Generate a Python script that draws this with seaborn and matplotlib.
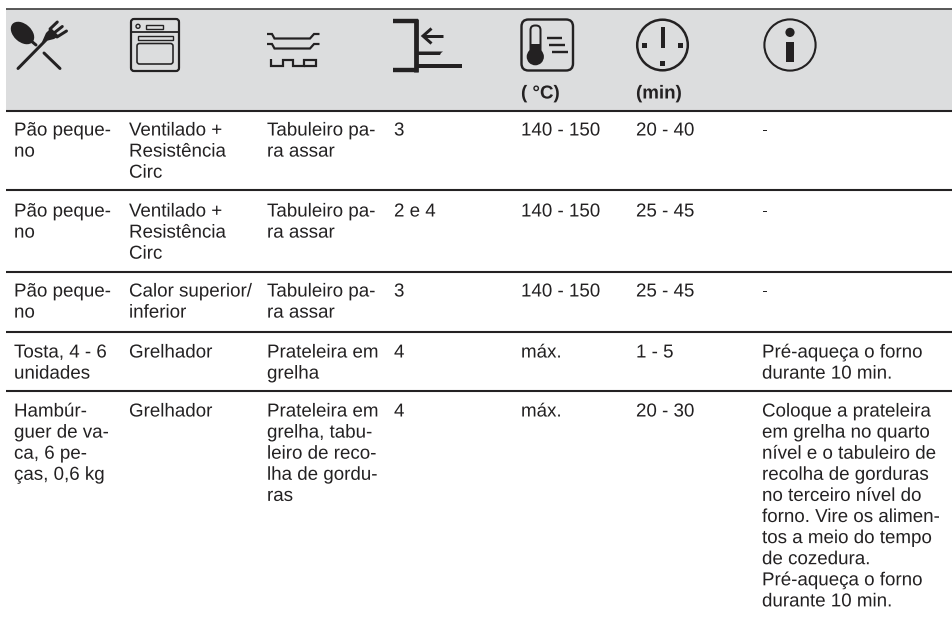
import matplotlib
matplotlib.use("Agg")
from matplotlib import pyplot as plt
from matplotlib import patheffects
from matplotlib.patches import Circle, Ellipse, FancyBboxPatch, Polygon, Rectangle
import seaborn as sns

WIDTH, HEIGHT = 952, 617
INK = "#232122"
RULE = "#242223"
BAND = "#dcddde"

# table contents, one list per column, "\n" is a line break in the cell
food = ["Pão peque-\nno", "Pão peque-\nno", "Pão peque-\nno", "Tosta, 4 - 6\nunidades",
        "Hambúr-\nguer de va-\nca, 6 pe-\nças, 0,6 kg"]
mode = ["Ventilado +\nResistência\nCirc", "Ventilado +\nResistência\nCirc",
        "Calor superior/\ninferior", "Grelhador", "Grelhador"]
accessory = ["Tabuleiro pa-\nra assar", "Tabuleiro pa-\nra assar", "Tabuleiro pa-\nra assar",
             "Prateleira em\ngrelha",
             "Prateleira em\ngrelha, tabu-\nleiro de reco-\nlha de gordu-\nras"]
level = ["3", "2 e 4", "3", "4", "4"]
temperature = ["140 - 150", "140 - 150", "140 - 150", "máx.", "máx."]
minutes = ["20 - 40", "25 - 45", "25 - 45", "1 - 5", "20 - 30"]
info = ["-", "-", "-", "Pré-aqueça o forno\ndurante 10 min.",
        "Coloque a prateleira\nem grelha no quarto\nnível e o tabuleiro de\nrecolha de gorduras\n"
        "no terceiro nível do\nforno. Vire os alimen-\ntos a meio do tempo\nde cozedura.\n"
        "Pré-aqueça o forno\ndurante 10 min."]
header_units = ["", "", "", "", "( °C)", "(min)", ""]

columns = [food, mode, accessory, level, temperature, minutes, info]
column_x = [14, 129, 267, 394, 521, 636, 762]
row_baseline = [135.5, 216.5, 296.5, 357.5, 416.5]
rule_y = [110.5, 190, 272, 332, 391]
LINE_STEP = 21.1
TEXT_SIZE = 13.5
# keeps the baselines of neighbouring cells on the same pixel
NO_SNAP = [patheffects.Normal()]


def line(ax, xs, ys, lw=1.6, color=INK, cap="butt", join="miter"):
    ax.plot(xs, ys, color=color, lw=lw * 0.72, solid_capstyle=cap, solid_joinstyle=join)


def rounded_box(ax, x0, y0, x1, y1, r, lw):
    ax.add_patch(FancyBboxPatch((x0 + r, y0 + r), x1 - x0 - 2 * r, y1 - y0 - 2 * r,
                                boxstyle=f"round,pad={r},rounding_size={r}",
                                fc="none", ec=INK, lw=lw * 0.72))


def cutlery_icon(ax):
    ax.add_patch(Ellipse((22.5, 33), 27, 18, angle=42, fc=INK, ec="none"))
    line(ax, [30, 36], [40, 45], lw=3, cap="round")
    line(ax, [44, 60], [53, 68.5], lw=3, cap="round")
    line(ax, [18, 46], [68.5, 40], lw=3, cap="round")
    ax.add_patch(Polygon([(42, 42), (46, 33), (51, 28), (59, 36), (54, 39)], fc=INK, ec="none"))
    line(ax, [50, 57.3], [29, 22], lw=3, cap="round")
    line(ax, [54, 62.3], [33, 26.5], lw=3, cap="round")
    line(ax, [57, 66.5], [37, 31], lw=3, cap="round")


def oven_icon(ax):
    rounded_box(ax, 131, 19, 179, 71, 3, 2.2)
    line(ax, [131, 179], [32, 32], lw=1.8)
    ax.add_patch(Circle((138, 26.3), 2, fc="none", ec=INK, lw=1))
    ax.add_patch(Rectangle((146, 24.5), 17, 4.2, fc="none", ec=INK, lw=1))
    ax.add_patch(Rectangle((137.5, 36.3), 35, 4, fc="none", ec=INK, lw=1))
    rounded_box(ax, 137, 43.5, 173, 64, 2.5, 1.6)


def tray_icon(ax):
    for y in (34, 44):
        line(ax, [267, 272, 274.5, 310, 314, 319.5], [y, y, y + 4.5, y + 4.5, y, y], lw=2.2)
    line(ax, [271, 271, 283, 283, 293, 293, 304, 304, 315.5, 315.5, 304],
         [59, 66, 66, 59.5, 59.5, 66, 66, 59.5, 59.5, 66, 66], lw=2.2)


def level_icon(ax):
    line(ax, [393, 417.5], [21, 21], lw=4.4)
    line(ax, [416, 416], [19, 72], lw=4.8)
    line(ax, [393, 417.5], [70, 70], lw=4.4)
    line(ax, [417, 462], [66, 66], lw=4)
    ax.add_patch(Polygon([(417, 51.5), (443, 51.5), (441, 53), (440, 55), (417, 55)], fc=INK, ec="none"))
    line(ax, [424, 443], [36, 36], lw=3)
    line(ax, [431.5, 423, 431.5], [28.5, 36, 43.5], lw=3)


def thermo_icon(ax):
    rounded_box(ax, 521.5, 19.5, 573, 70.5, 7, 2.4)
    rounded_box(ax, 530.5, 25.5, 540.5, 55, 4.5, 2)
    ax.add_patch(Circle((535.3, 56.7), 8.6, fc=INK, ec="none"))
    ax.add_patch(Rectangle((531, 44), 9.5, 10, fc=INK, ec="none"))
    line(ax, [547, 562], [38.2, 38.2], lw=2.4)
    line(ax, [549, 565], [45, 45], lw=2.4)
    line(ax, [552, 567.5], [52, 52], lw=2.4)


def clock_icon(ax):
    ax.add_patch(Circle((662.5, 45), 25.3, fc="none", ec=INK, lw=1.8))
    ax.add_patch(Rectangle((660.8, 27), 3.8, 21, fc=INK, ec="none"))
    for x, y in ((644.5, 45.3), (680.5, 45.3), (662.5, 63.5)):
        ax.add_patch(Rectangle((x - 2.3, y - 2.3), 4.6, 4.6, fc=INK, ec="none"))


def info_icon(ax):
    ax.add_patch(Circle((790, 45), 25.6, fc="none", ec=INK, lw=1.5))
    ax.add_patch(Circle((790, 32.4), 4.6, fc=INK, ec="none"))
    ax.add_patch(Rectangle((786, 41.7), 8, 20.3, fc=INK, ec="none"))


def draw_cell(ax, x, y, text):
    for i, part in enumerate(text.split("\n")):
        ax.text(x, y + i * LINE_STEP, part, fontsize=TEXT_SIZE, color=INK, va="baseline", ha="left",
                path_effects=NO_SNAP)


sns.set_theme(style="white")
plt.rcParams["font.family"] = ["Liberation Sans", "DejaVu Sans"]
plt.rcParams["text.hinting"] = "no_hinting"
plt.rcParams["text.hinting_factor"] = 1

fig = plt.figure(figsize=(WIDTH / 100, HEIGHT / 100), dpi=100, facecolor="white")

# header band is a one cell heatmap sitting under the overlay
band_ax = fig.add_axes([6 / WIDTH, 1 - 110 / HEIGHT, (WIDTH - 6) / WIDTH, 101 / HEIGHT])
sns.heatmap([[0]], cmap=[BAND], cbar=False, xticklabels=False, yticklabels=False, ax=band_ax)

ax = fig.add_axes([0, 0, 1, 1], facecolor="none")
ax.set_xlim(0, WIDTH)
ax.set_ylim(HEIGHT, 0)
ax.axis("off")

ax.hlines(9, 6, WIDTH, color="#4a4a4a", lw=1.3)
ax.hlines(rule_y, 6, WIDTH, color=RULE, lw=1.5)

cutlery_icon(ax)
oven_icon(ax)
tray_icon(ax)
level_icon(ax)
thermo_icon(ax)
clock_icon(ax)
info_icon(ax)

for x, unit in zip(column_x, header_units):
    if unit:
        ax.text(x, 98.5, unit, fontsize=TEXT_SIZE, fontweight="bold", color=INK, va="baseline",
                path_effects=NO_SNAP)

for x, cells in zip(column_x, columns):
    for y, cell in zip(row_baseline, cells):
        draw_cell(ax, x, y, cell)

fig.savefig("out.png", dpi=100)
